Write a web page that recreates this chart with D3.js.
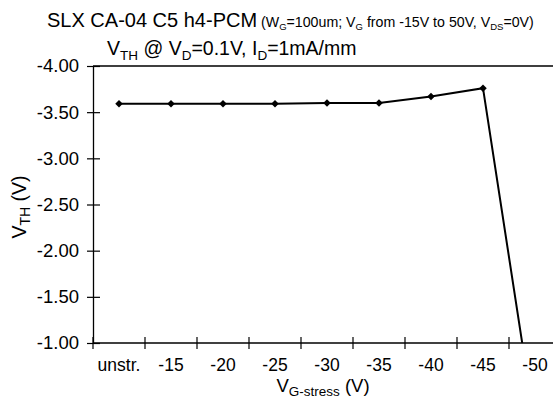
<!DOCTYPE html>
<html>
<head>
<meta charset="utf-8">
<script src="https://cdn.jsdelivr.net/npm/d3@7"></script>
<style>
  html, body { margin: 0; padding: 0; background: #fff; }
  svg { display: block; font-family: "Liberation Sans", Arial, sans-serif; }
</style>
</head>
<body>
<svg id="chart" width="553" height="400"></svg>
<script>
// Stress categories along the x axis
const categories = ["unstr.", "-15", "-20", "-25", "-30", "-35", "-40", "-45", "-50"];
// Threshold voltage (V) measured after each gate-stress step
const vth = [-3.59, -3.59, -3.59, -3.59, -3.60, -3.60, -3.67, -3.76, -0.10];
// Y tick values and their printed labels
const yTicks = [-4.0, -3.5, -3.0, -2.5, -2.0, -1.5, -1.0];
const yTickLabels = ["-4.00", "-3.50", "-3.00", "-2.50", "-2.00", "-1.50", "-1.00"];

const svg = d3.select("#chart");
const plot = { left: 93, top: 66, right: 561, bottom: 343 };

const x = d3.scaleBand().domain(categories).range([plot.left, plot.right]).padding(0);
const y = d3.scaleLinear().domain([-4, -1]).range([plot.top, plot.bottom]);

// clip for the data line
svg.append("clipPath").attr("id", "plotClip")
  .append("rect")
  .attr("x", plot.left).attr("y", plot.top)
  .attr("width", plot.right - plot.left).attr("height", plot.bottom - plot.top);

// frame: top and right edges
svg.append("path")
  .attr("d", `M${plot.left},${plot.top}H${plot.right}V${plot.bottom}`)
  .attr("fill", "none").attr("stroke", "#000").attr("stroke-width", 1.3);

// y axis: labels + outward ticks, plus inward ticks crossing the axis line
const yAxis = d3.axisLeft(y)
  .tickValues(yTicks)
  .tickFormat((d, i) => yTickLabels[i])
  .tickSizeInner(6).tickSizeOuter(0).tickPadding(8);
const gy = svg.append("g").attr("transform", `translate(${plot.left},0)`).call(yAxis);
gy.select(".domain").attr("stroke-width", 1.3);
gy.selectAll(".tick line").attr("stroke-width", 1.2);
gy.selectAll(".tick text").attr("font-size", 18.5).attr("fill", "#000");
const gy2 = svg.append("g").attr("transform", `translate(${plot.left},0)`)
  .call(d3.axisRight(y).tickValues(yTicks).tickFormat("").tickSizeInner(7).tickSizeOuter(0));
gy2.select(".domain").remove();
gy2.selectAll(".tick line").attr("stroke-width", 1.2);

// x axis: labels centred in each band, ticks on band boundaries
const gx = svg.append("g").attr("transform", `translate(0,${plot.bottom})`)
  .call(d3.axisBottom(x).tickSize(0).tickPadding(16));
gx.select(".domain").attr("stroke-width", 1.3).attr("d", `M${plot.left},0H${plot.right}`);
gx.selectAll(".tick text").attr("font-size", 17.5).attr("fill", "#000");
const bounds = categories.map(c => x(c)).concat([x(categories[categories.length - 1]) + x.bandwidth()]);
svg.append("g").selectAll("line").data(bounds).join("line")
  .attr("x1", d => d).attr("x2", d => d)
  .attr("y1", plot.bottom - 6).attr("y2", plot.bottom + 6)
  .attr("stroke", "#000").attr("stroke-width", 1.2);

// data line and markers
const pts = categories.map((c, i) => [x(c) + x.bandwidth() / 2, y(vth[i])]);
const gData = svg.append("g").attr("clip-path", "url(#plotClip)");
gData.append("path")
  .attr("d", d3.line()(pts))
  .attr("fill", "none").attr("stroke", "#000").attr("stroke-width", 2);
gData.selectAll("path.mk").data(pts).join("path")
  .attr("class", "mk")
  .attr("transform", d => `translate(${d[0]},${d[1]}) rotate(45)`)
  .attr("d", d3.symbol().type(d3.symbolSquare).size(28))
  .attr("fill", "#000");

// text with subscripts, shifted with relative dy so the text stays one chunk
function richText(sel, runs, size, subSize, shift) {
  let offset = 0;
  runs.forEach(([s, sub]) => {
    const target = sub ? shift : 0;
    sel.append("tspan")
      .attr("dy", target - offset)
      .attr("font-size", sub ? subSize : size)
      .text(s);
    offset = target;
  });
}

// titles
const t1 = svg.append("text").attr("x", 47).attr("y", 27).attr("fill", "#000");
t1.append("tspan").attr("font-size", 20).text("SLX CA-04 C5 h4-PCM");
richText(t1, [[" (W", false], ["G", true], ["=100um; V", false], ["G", true],
  [" from -15V to 50V, V", false], ["DS", true], ["=0V)", false]], 14.2, 9.5, 3);

const t2 = svg.append("text").attr("x", 107).attr("y", 55).attr("fill", "#000");
richText(t2, [["V", false], ["TH", true], [" @ V", false], ["D", true],
  ["=0.1V, I", false], ["D", true], ["=1mA/mm", false]], 19.5, 13.5, 5);

// axis titles
const xt = svg.append("text").attr("x", 323).attr("y", 392).attr("text-anchor", "middle").attr("fill", "#000");
richText(xt, [["V", false], ["G-stress", true], [" (V)", false]], 18.5, 13.5, 3.5);

const yt = svg.append("text").attr("transform", "translate(26,207) rotate(-90)")
  .attr("text-anchor", "middle").attr("fill", "#000");
richText(yt, [["V", false], ["TH", true], [" (V)", false]], 19.5, 14, 4);
</script>
</body>
</html>
